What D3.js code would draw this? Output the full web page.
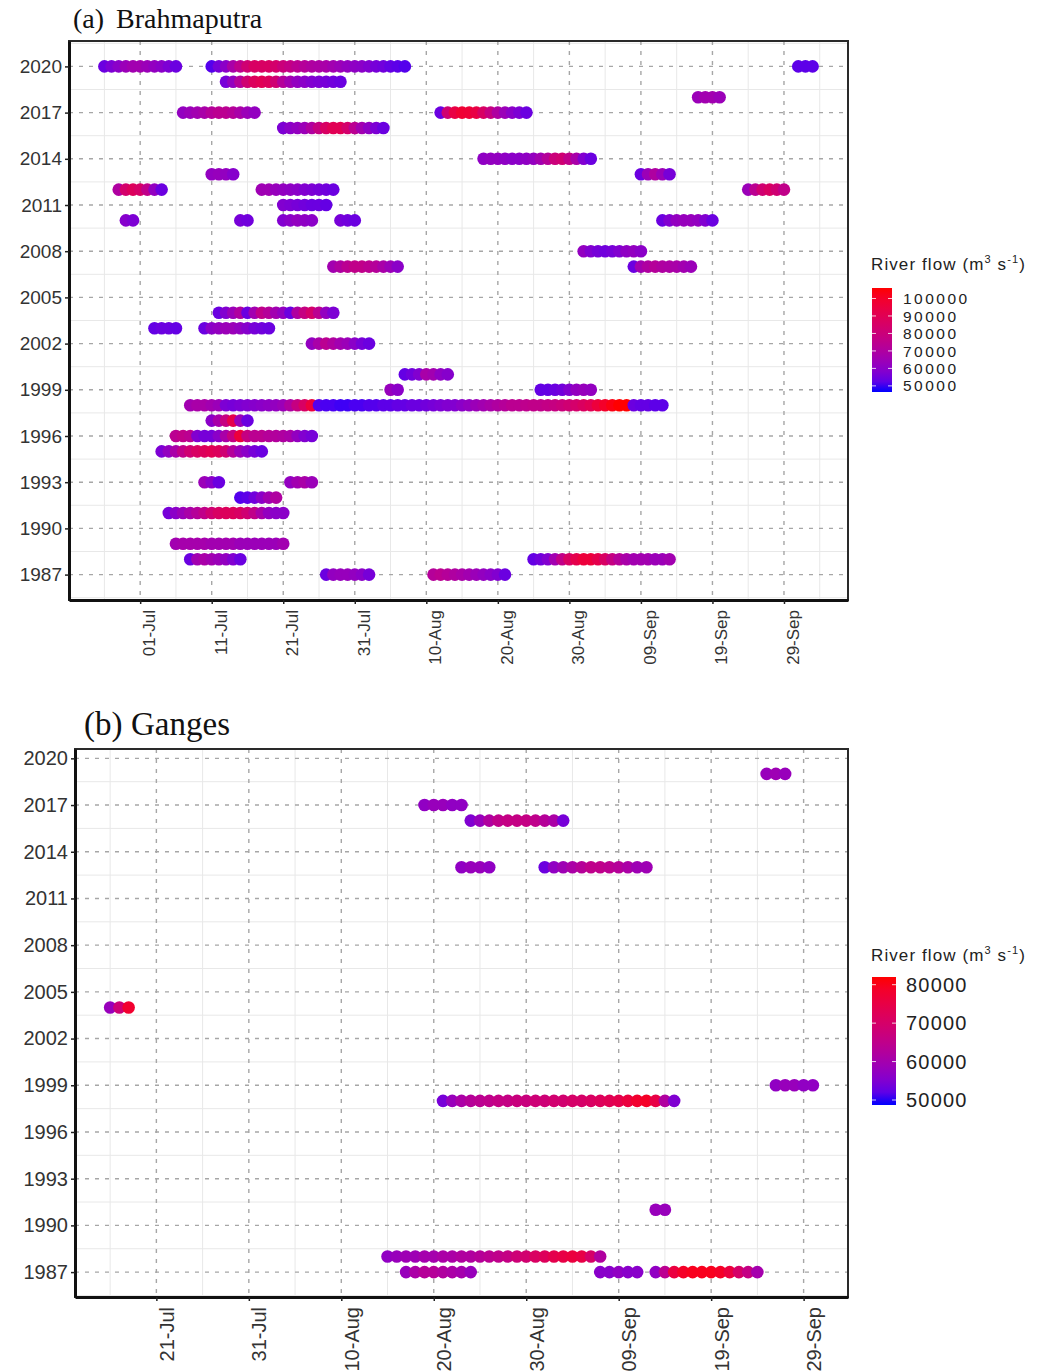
<!DOCTYPE html>
<html>
<head>
<meta charset="utf-8">
<script src="https://cdnjs.cloudflare.com/ajax/libs/d3/7.8.5/d3.min.js"></script>
<style>
  body { margin: 0; background: #fff; }
  .tick text { font-family: "Liberation Sans", Arial, sans-serif; fill: #333; }
  .title { font-family: "Liberation Serif", "Times New Roman", serif; fill: #111; }
  .legend-title, .legend-label { font-family: "Liberation Sans", Arial, sans-serif; fill: #222; }
</style>
</head>
<body>
<div class="svg-container"></div>
<script>
var width = 1048;
var height = 1372;

// flood events: [year, first day (MM-DD), daily river flow in 1000 m3/s]
var brahmaputraEvents = [
  [2020, "06-26", [54,57,60,64,66,66,64,62,60,57,54]],
  [2020, "07-11", [51,56,60,68,75,82,86,86,86,84,80,77,74,72,70,69,68,66,64,62,61,60,58,56,55,53,52,51]],
  [2020, "10-01", [52,52,52]],
  [2019, "07-13", [56,62,72,82,88,90,88,82,72,66,62,60,58,57,56,55,54]],
  [2018, "09-17", [64,66,66,64]],
  [2017, "07-07", [62,64,66,68,72,74,74,72,68,64,62]],
  [2017, "08-12", [54,82,94,98,97,94,86,78,70,64,60,57,54]],
  [2016, "07-21", [57,60,62,64,70,78,86,90,90,84,74,66,61,57,54]],
  [2014, "08-18", [61,62,62,61,60,60,61,62,66,72,80,82,76,68,58,54]],
  [2013, "07-11", [62,63,62,59]],
  [2013, "09-09", [54,64,70,64,56]],
  [2012, "06-28", [70,84,88,85,76,62,54]],
  [2012, "07-18", [65,65,63,62,61,60,58,57,56,55,54]],
  [2012, "09-24", [64,74,82,86,82,76]],
  [2011, "07-21", [58,57,56,55,54,54,53]],
  [2010, "06-29", [59,57]],
  [2010, "07-15", [56,55]],
  [2010, "07-21", [58,60,62,61,60]],
  [2010, "07-29", [56,55,54]],
  [2010, "09-12", [54,58,62,63,63,62,58,54]],
  [2008, "09-01", [62,58,56,55,56,58,61,62,60]],
  [2007, "07-28", [66,70,74,76,76,74,72,68,64,60]],
  [2007, "09-08", [54,66,70,72,70,69,68,66,64]],
  [2004, "07-12", [54,58,64,70,54,66,76,72,66,62,54,70,78,84,74,62,57]],
  [2003, "07-03", [53,54,54,53]],
  [2003, "07-10", [54,60,62,64,64,62,59,56,55,54]],
  [2002, "07-25", [62,68,74,70,66,64,60,56,54]],
  [2000, "08-07", [53,55,58,68,66,61,59]],
  [1999, "08-05", [63,60]],
  [1999, "08-26", [53,53,54,55,58,62,63,62]],
  [1998, "07-08", [66,68,68,66,64, 57,56,57,58,59,60,61,62,64, 70,78,86,96,
                   51,50,50,49,49,50,50,51,51,52,52,53,53,54,54,55,56,57,58,
                   58,60,62,64,66,68,70, 72,74,74,75,76,76,77,78,80,82,84,87,90,
                   96,100,104,106,106, 54,53,53,52,52]],
  [1997, "07-11", [60,68,78,92,64,54]],
  [1996, "07-06", [74,76,74,58,56,56,60,68,78,96,78,74,74,72,71,70,68,62,58,56]],
  [1995, "07-04", [57,62,68,76,82,86,88,90,88,82,72,64,60,56,54]],
  [1993, "07-10", [64,60,54]],
  [1993, "07-22", [62,66,68,64]],
  [1992, "07-15", [51,52,55,60,66,70]],
  [1991, "07-05", [56,60,64,68,72,76,82,86,88,88,86,82,76,68,62,60,60]],
  [1989, "07-06", [66,67,67,67,67,66,66,66,66,64,64,64,64,64,64,66]],
  [1988, "07-08", [54,66,68,66,64,62,58,54]],
  [1988, "08-25", [53,55,58,66,76,86,92,96,96,92,86,78,72,68,66,66,66,64,64,66]],
  [1987, "07-27", [54,62,63,63,62,60,56]],
  [1987, "08-11", [72,74,72,70,68,66,64,62,60,58,54]]
];

var gangesEvents = [
  [2019, "09-25", [58,59,58]],
  [2017, "08-19", [57,58,58,57,57]],
  [2016, "08-24", [55,58,62,65,66,66,66,65,63,61,54]],
  [2013, "08-23", [57,58,58,57]],
  [2013, "09-01", [53,57,59,61,63,65,65,64,63,61,59,59]],
  [2004, "07-16", [58,68,78]],
  [1999, "09-26", [57,58,58,57,57]],
  [1998, "08-21", [54,58,61,63,64,65,66,66,67,67,68,68,69,69,70,70,71,72,73,74,76,78,79,75,62,55]],
  [1991, "09-13", [58,58]],
  [1988, "08-15", [57,58,59,59,60,60,61,61,62,62,63,64,65,66,68,69,71,72,74,75,76,75,70,62]],
  [1987, "08-17", [58,61,63,63,62,61,60,58]],
  [1987, "09-07", [56,56,57,56,56]],
  [1987, "09-13", [57,64,76,79,80,80,80,79,76,70,66,60]]
];

var yearTicks = [1987, 1990, 1993, 1996, 1999, 2002, 2005, 2008, 2011, 2014, 2017, 2020];
var dateTicks = ["07-01", "07-11", "07-21", "07-31", "08-10", "08-20", "08-30", "09-09", "09-19", "09-29"];

var brahmaputraFlowLimits = [46500, 106000];
var brahmaputraLegendTicks = [50000, 60000, 70000, 80000, 90000, 100000];
var gangesFlowLimits = [48700, 82000];
var gangesLegendTicks = [50000, 60000, 70000, 80000];

var parseDay = d3.timeParse("%Y-%m-%d");
var formatDay = d3.timeFormat("%d-%b");

function toDate(md) { return parseDay("2001-" + md); }

// creating svg canvas
var svg = d3.select(".svg-container")
              .append("svg")
              .attr("width", width)
              .attr("height", height);

drawPanel({
  id: "a",
  events: brahmaputraEvents,
  box: { left: 69, right: 848, top: 41, bottom: 600 },
  limits: brahmaputraFlowLimits,
  legendTicks: brahmaputraLegendTicks,
  legend: { x: 872, y: 288, w: 20, h: 104, labelX: 903, labelSize: 15.5, labelSpacing: 2.5, titleY: 270 },
  title: [["(a)", 73], ["Brahmaputra", 116]], titleY: 28, titleSize: 28,
  yFont: 19, xFont: 17, radius: 6.3
});

drawPanel({
  id: "b",
  events: gangesEvents,
  box: { left: 75, right: 848, top: 749, bottom: 1297 },
  limits: gangesFlowLimits,
  legendTicks: gangesLegendTicks,
  legend: { x: 872, y: 977, w: 24, h: 128, labelX: 906, labelSize: 20, labelSpacing: 1.2, titleY: 961 },
  title: [["(b)", 84], ["Ganges", 131]], titleY: 735, titleSize: 33,
  yFont: 20, xFont: 20, radius: 6.3
});

function expandDots(events) {
  var dots = [];
  events.forEach(function(e) {
    var start = toDate(e[1]);
    e[2].forEach(function(v, i) {
      dots.push({ year: e[0], date: d3.timeDay.offset(start, i), flow: v * 1000 });
    });
  });
  return dots;
}

function drawPanel(p) {
  var box = p.box;
  var dots = expandDots(p.events);
  var g = svg.append("g").attr("class", "panel-" + p.id);

  // 5% expansion like ggplot
  var dExt = d3.extent(dots, function(d) { return d.date; });
  var dSpan = dExt[1] - dExt[0];
  var x = d3.scaleTime()
              .domain([new Date(+dExt[0] - dSpan * 0.05), new Date(+dExt[1] + dSpan * 0.05)])
              .range([box.left, box.right]);

  var yExt = d3.extent(dots, function(d) { return d.year; });
  var ySpan = yExt[1] - yExt[0];
  var y = d3.scaleLinear()
              .domain([yExt[0] - ySpan * 0.05, yExt[1] + ySpan * 0.05])
              .range([box.bottom, box.top]);

  var colour = d3.scaleSequential(d3.interpolateLab("blue", "red")).domain(p.limits);

  var xDom = x.domain();
  var majorX = dateTicks.map(toDate).filter(function(d) { return d >= xDom[0] && d <= xDom[1]; });
  var minorX = dateTicks.map(toDate)
                  .map(function(d) { return d3.timeDay.offset(d, -5); })
                  .concat([d3.timeDay.offset(toDate(dateTicks[dateTicks.length - 1]), 5)])
                  .filter(function(d) { return d >= xDom[0] && d <= xDom[1]; });
  var yDom = y.domain();
  var minorY = yearTicks.map(function(v) { return v - 1.5; })
                  .concat([yearTicks[yearTicks.length - 1] + 1.5])
                  .filter(function(v) { return v >= yDom[0] && v <= yDom[1]; });

  // minor grid
  g.selectAll(".minor-x").data(minorX).enter().append("line")
      .attr("x1", function(d) { return x(d); }).attr("x2", function(d) { return x(d); })
      .attr("y1", box.top).attr("y2", box.bottom)
      .attr("stroke", "#e8e8e8").attr("stroke-width", 1);
  g.selectAll(".minor-y").data(minorY).enter().append("line")
      .attr("y1", function(d) { return y(d); }).attr("y2", function(d) { return y(d); })
      .attr("x1", box.left).attr("x2", box.right)
      .attr("stroke", "#e8e8e8").attr("stroke-width", 1);

  // major grid, dotted
  g.selectAll(".major-x").data(majorX).enter().append("line")
      .attr("x1", function(d) { return x(d); }).attr("x2", function(d) { return x(d); })
      .attr("y1", box.top).attr("y2", box.bottom)
      .attr("stroke", "#a6a6a6").attr("stroke-width", 1.4)
      .style("stroke-dasharray", "4,6");
  g.selectAll(".major-y").data(yearTicks).enter().append("line")
      .attr("y1", function(d) { return y(d); }).attr("y2", function(d) { return y(d); })
      .attr("x1", box.left).attr("x2", box.right)
      .attr("stroke", "#a6a6a6").attr("stroke-width", 1.4)
      .style("stroke-dasharray", "4,6");

  // flood days
  g.selectAll("circle").data(dots).enter().append("circle")
      .attr("cx", function(d) { return x(d.date); })
      .attr("cy", function(d) { return y(d.year); })
      .attr("r", p.radius)
      .attr("fill", function(d) { return colour(d.flow); });

  // panel border
  g.append("rect")
      .attr("x", box.left).attr("y", box.top)
      .attr("width", box.right - box.left).attr("height", box.bottom - box.top)
      .attr("fill", "none").attr("stroke", "#2a2a2a").attr("stroke-width", 2);

  // axes
  var yAxis = g.append("g")
      .attr("transform", "translate(" + box.left + ",0)")
      .call(d3.axisLeft(y).tickValues(yearTicks).tickFormat(d3.format("d")).tickSize(4).tickSizeOuter(0));
  yAxis.select(".domain").attr("stroke", "#111").attr("stroke-width", 3);
  yAxis.selectAll(".tick line").attr("stroke", "#222").attr("stroke-width", 1.5);
  yAxis.selectAll("text").style("font-size", p.yFont + "px");

  var xAxis = g.append("g")
      .attr("transform", "translate(0," + box.bottom + ")")
      .call(d3.axisBottom(x).tickValues(majorX).tickFormat(formatDay).tickSize(4).tickSizeOuter(0));
  xAxis.select(".domain").attr("stroke", "#111").attr("stroke-width", 3);
  xAxis.selectAll(".tick line").attr("stroke", "#222").attr("stroke-width", 1.5);
  xAxis.selectAll("text")
      .style("font-size", p.xFont + "px")
      .attr("transform", "rotate(-90)")
      .attr("text-anchor", "end")
      .attr("x", -10)
      .attr("y", 0)
      .attr("dy", "0.85em");

  // title
  p.title.forEach(function(t) {
    g.append("text")
        .attr("class", "title")
        .attr("x", t[1]).attr("y", p.titleY)
        .style("font-size", p.titleSize + "px")
        .text(t[0]);
  });

  drawLegend(g, p, colour);
}

function drawLegend(g, p, colour) {
  var L = p.legend;
  var gradId = "grad-" + p.id;
  var grad = svg.append("defs").append("linearGradient")
      .attr("id", gradId)
      .attr("x1", 0).attr("y1", 1).attr("x2", 0).attr("y2", 0);
  d3.range(0, 1.0001, 0.1).forEach(function(t) {
    grad.append("stop")
        .attr("offset", t)
        .attr("stop-color", colour(p.limits[0] + t * (p.limits[1] - p.limits[0])));
  });

  var title = g.append("text")
      .attr("class", "legend-title")
      .attr("x", 871).attr("y", L.titleY)
      .style("font-size", "17px")
      .style("letter-spacing", "1.1px");
  title.append("tspan").text("River flow (m");
  title.append("tspan").attr("dy", -7).style("font-size", "11px").text("3");
  title.append("tspan").attr("dy", 7).text(" s");
  title.append("tspan").attr("dy", -7).style("font-size", "11px").text("-1");
  title.append("tspan").attr("dy", 7).text(")");

  g.append("rect")
      .attr("x", L.x).attr("y", L.y)
      .attr("width", L.w).attr("height", L.h)
      .attr("fill", "url(#" + gradId + ")");

  var ly = d3.scaleLinear().domain(p.limits).range([L.y + L.h, L.y]);

  g.selectAll(".legend-tick").data(p.legendTicks).enter().append("line")
      .attr("x1", L.x).attr("x2", L.x + L.w)
      .attr("y1", function(d) { return ly(d); }).attr("y2", function(d) { return ly(d); })
      .attr("stroke", "#fff").attr("stroke-width", 0.8)
      .style("stroke-dasharray", "4," + (L.w - 8) + ",4");

  g.selectAll(".legend-label").data(p.legendTicks).enter().append("text")
      .attr("class", "legend-label")
      .attr("x", L.labelX)
      .attr("y", function(d) { return ly(d); })
      .attr("dy", "0.36em")
      .style("font-size", L.labelSize + "px")
      .style("letter-spacing", L.labelSpacing + "px")
      .text(function(d) { return d; });
}
</script>
</body>
</html>
